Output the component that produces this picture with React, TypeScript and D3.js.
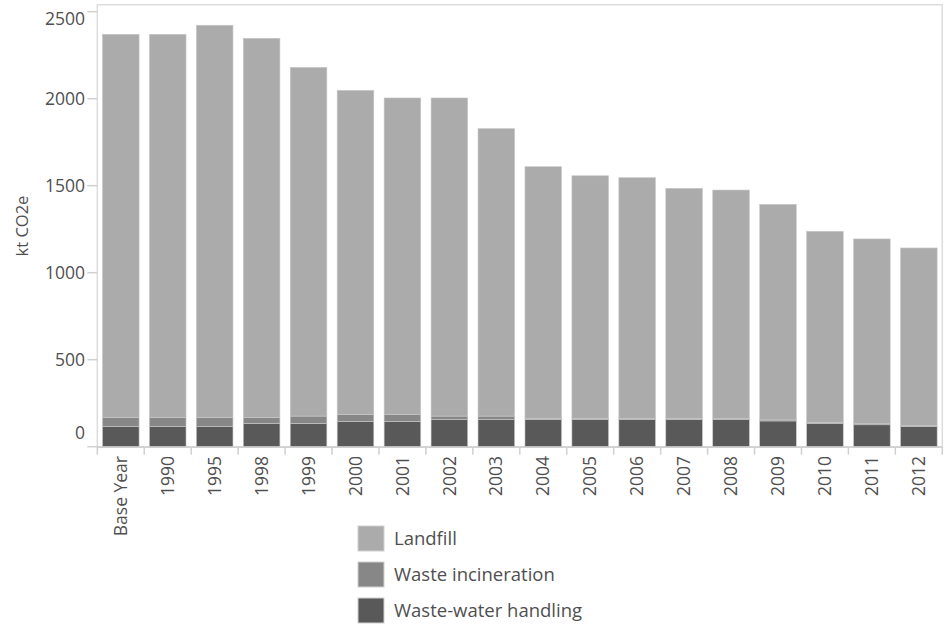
import React from "react";
import * as d3 from "d3";

const categories = ["Base Year","1990","1995","1998","1999","2000","2001","2002","2003","2004","2005","2006","2007","2008","2009","2010","2011","2012"];
const wasteWater = [115,115,115,134,134,146,146,157,157,157,157,157,157,157,148,134,126,117];
const incineration = [52,52,52,33,42,40,40,19,19,6,6,6,6,6,6,6,6,6];
const landfill = [2203,2203,2255,2180,2004,1862,1818,1828,1652,1446,1394,1383,1322,1312,1239,1098,1062,1019];
const seriesNames = ["Waste-water handling","Waste incineration","Landfill"];
const seriesColors = ["#595959","#878787","#ababab"];
const yTicks = [0,500,1000,1500,2000,2500];
const legendOrder = ["Landfill","Waste incineration","Waste-water handling"];

const W = 949, H = 628;
const left = 97.3, right = 942.3, top = 4.7, bottom = 446.7;

export default function App() {
  const x = d3.scaleBand<string>().domain(categories).range([left, right]).paddingInner(0.22).paddingOuter(0.11);
  const y = d3.scaleLinear().domain([0, 2540]).range([bottom, top]);
  const rows = categories.map((c, i) => ({ cat: c, "Waste-water handling": wasteWater[i], "Waste incineration": incineration[i], "Landfill": landfill[i] }));
  const stack = d3.stack<any>().keys(seriesNames)(rows);
  const color = d3.scaleOrdinal<string, string>().domain(seriesNames).range(seriesColors);
  const step = x.step();
  const font = "'Open Sans', sans-serif";
  const txt = "#4f4f4f";
  return (
    <svg width={W} height={H} style={{ position: "absolute", left: 0, top: 0 }} fontFamily={font}>
      <rect x={left} y={top} width={right - left} height={bottom - top} fill="none" stroke="#dcdcdc" strokeWidth={1.5} />
      {stack.map((s) => (
        <g key={s.key} fill={color(s.key)}>
          {s.map((d, i) => (
            <rect key={i} x={x(categories[i])} width={x.bandwidth()} y={y(d[1])} height={Math.max(0, y(d[0]) - y(d[1]))} stroke="#c8c8c8" strokeWidth={0.6} />
          ))}
        </g>
      ))}
      <line x1={left} x2={right} y1={bottom + 0.5} y2={bottom + 0.5} stroke="#d0d0d0" strokeWidth={1.5} />
      {yTicks.map((t) => {
        let ly = y(t);
        if (t === 0) ly -= 14;
        if (t === 2500) ly += 7;
        return (
          <g key={t}>
            <line x1={left - 10} x2={left} y1={y(t)} y2={y(t)} stroke="#d0d0d0" strokeWidth={1.5} />
            <text x={85} y={ly} dy="0.35em" textAnchor="end" fontSize={17.5} fill={txt}>{t}</text>
          </g>
        );
      })}
      {categories.map((c, i) => (
        <line key={"t" + i} x1={left + i * step} x2={left + i * step} y1={bottom} y2={bottom + 8} stroke="#d0d0d0" strokeWidth={1.5} />
      ))}
      <line x1={right} x2={right} y1={bottom} y2={bottom + 8} stroke="#d0d0d0" strokeWidth={1.5} />
      {categories.map((c) => {
        const cx = (x(c) as number) + x.bandwidth() / 2;
        return (
          <text key={c} transform={`translate(${cx},456) rotate(-90)`} textAnchor="end" dy="0.35em" fontSize={17.5} fill={txt}>{c}</text>
        );
      })}
      <text transform="translate(22,226) rotate(-90)" textAnchor="middle" dy="0.35em" fontSize={16.5} fill={txt}>kt CO2e</text>
      {legendOrder.map((n, i) => (
        <g key={n} transform={`translate(358,${526 + i * 36})`}>
          <rect x={0} y={0} width={26} height={25} fill={color(n)} stroke="#d0d0d0" strokeWidth={1} />
          <text x={36} y={13} dy="0.35em" fontSize={18.5} fill={txt}>{n}</text>
        </g>
      ))}
    </svg>
  );
}
